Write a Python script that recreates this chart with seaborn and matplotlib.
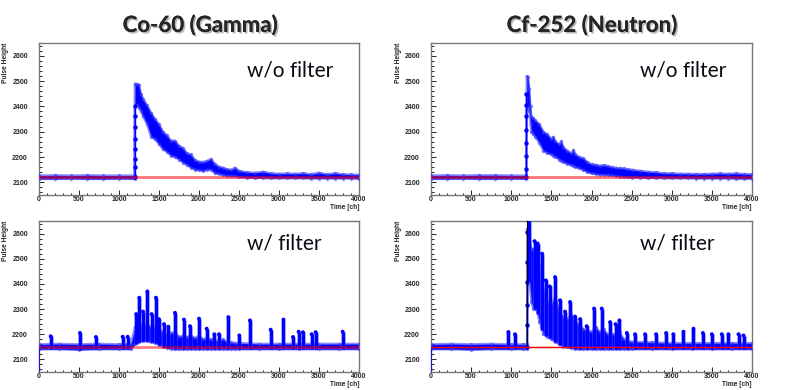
import numpy as np
import pandas as pd
import matplotlib.pyplot as plt
import matplotlib.patheffects as pe
from matplotlib.ticker import MultipleLocator
import seaborn as sns

# ---- values (channel -> pulse height) ----
# Co-60, without filter: upper / lower edge of the noisy waveform band
co_raw_ch = [0, 200, 400, 600, 800, 1000, 1194, 1198, 1225, 1250, 1275, 1300,
             1350, 1400, 1450, 1500, 1550, 1600, 1650, 1700, 1750, 1800, 1850, 1900,
             1950, 2000, 2050, 2100, 2150, 2200, 2250, 2300, 2350, 2400, 2450, 2500,
             2600, 2700, 2800, 2900, 3000, 3100, 3200, 3300, 3400, 3500, 3600, 3700,
             3800, 3900, 4000]
co_raw_hi = [2127, 2128, 2127, 2128, 2127, 2127, 2127, 2490, 2488, 2486, 2450, 2430,
             2405, 2375, 2350, 2330, 2300, 2285, 2265, 2265, 2245, 2235, 2215, 2210,
             2188, 2182, 2180, 2185, 2193, 2172, 2162, 2158, 2152, 2150, 2158, 2146,
             2140, 2138, 2142, 2136, 2134, 2135, 2134, 2136, 2132, 2138, 2132, 2136,
             2132, 2131, 2130]
co_raw_lo = [2113, 2113, 2114, 2113, 2113, 2114, 2113, 2400, 2405, 2395, 2380, 2360,
             2330, 2280, 2270, 2250, 2230, 2220, 2205, 2200, 2190, 2178, 2168, 2158,
             2150, 2148, 2145, 2150, 2150, 2135, 2133, 2128, 2126, 2124, 2124, 2120,
             2118, 2117, 2117, 2116, 2116, 2116, 2116, 2116, 2115, 2115, 2115, 2115,
             2115, 2115, 2114]
co_raw_rise = [2121, 2160, 2193, 2233, 2273, 2320, 2360, 2400]

# Cf-252, without filter
cf_raw_ch = [0, 200, 400, 600, 800, 1000, 1188, 1192, 1210, 1225, 1240, 1250, 1275,
             1300, 1350, 1400, 1450, 1500, 1525, 1550, 1600, 1625, 1650, 1700, 1750,
             1775, 1800, 1850, 1900, 1950, 2000, 2050, 2100, 2150, 2200, 2250, 2300,
             2350, 2400, 2450, 2500, 2600, 2700, 2800, 2900, 3000, 3100, 3200, 3300,
             3400, 3500, 3600, 3700, 3800, 3900, 4000]
cf_raw_hi = [2127, 2128, 2127, 2128, 2128, 2127, 2127, 2520, 2515, 2470, 2400, 2360, 2355,
             2345, 2330, 2300, 2290, 2272, 2280, 2262, 2250, 2262, 2238, 2225, 2215,
             2228, 2210, 2200, 2195, 2180, 2172, 2170, 2166, 2168, 2165, 2160, 2158,
             2156, 2155, 2152, 2150, 2146, 2142, 2140, 2136, 2136, 2134, 2134, 2133,
             2133, 2134, 2135, 2134, 2135, 2133, 2132]
cf_raw_lo = [2113, 2113, 2114, 2113, 2113, 2114, 2113, 2390, 2400, 2380, 2330, 2300, 2290,
             2280, 2255, 2225, 2215, 2210, 2205, 2200, 2190, 2185, 2180, 2172, 2168,
             2165, 2160, 2155, 2148, 2140, 2135, 2133, 2130, 2130, 2128, 2127, 2125,
             2123, 2121, 2120, 2119, 2118, 2117, 2117, 2116, 2116, 2116, 2116, 2115,
             2115, 2115, 2115, 2115, 2114, 2114, 2114]
cf_raw_rise = [2121, 2153, 2204, 2254, 2307, 2360, 2407, 2447]

# Co-60, with filter: baseline band + individual pile-up spikes
co_filt_ch = [0, 250, 500, 750, 1000, 1150, 1200, 1250, 1300, 1350, 1400, 1450, 1500,
              1550, 1600, 1650, 1700, 1750, 1800, 1850, 1900, 1950, 2000, 2050, 2100,
              2150, 2200, 2250, 2300, 2350, 2400, 2450, 2500, 2750, 3000, 3250, 3500,
              3750, 4000]
co_filt_hi = [2160, 2162, 2160, 2162, 2160, 2162, 2230, 2240, 2235, 2240, 2230, 2230, 2220,
              2210, 2200, 2205, 2210, 2190, 2195, 2190, 2195, 2185, 2195, 2180, 2185,
              2180, 2175, 2175, 2180, 2170, 2168, 2165, 2165, 2162, 2162, 2162, 2162,
              2162, 2162]
co_filt_lo = [2140, 2140, 2138, 2140, 2140, 2140, 2160, 2168, 2172, 2172, 2168, 2165, 2158,
              2150, 2145, 2142, 2140, 2140, 2140, 2140, 2140, 2140, 2140, 2140, 2140,
              2140, 2140, 2140, 2140, 2140, 2140, 2140, 2140, 2140, 2140, 2140, 2140,
              2140, 2140]
co_spk_ch = [146, 512, 712, 1046, 1108, 1215, 1254, 1300, 1354, 1408, 1462, 1500, 1563,
             1617, 1700, 1812, 1888, 2000, 2096, 2192, 2250, 2367, 2504, 2637, 2896,
             3056, 3175, 3246, 3300, 3408, 3458, 3796]
co_spk_top = [2192, 2205, 2189, 2190, 2190, 2280, 2345, 2290, 2370, 2280, 2345, 2260, 2240,
              2230, 2285, 2258, 2232, 2262, 2222, 2200, 2200, 2268, 2195, 2255, 2218,
              2258, 2189, 2210, 2208, 2200, 2208, 2210]

# Cf-252, with filter
cf_filt_ch = [0, 250, 500, 750, 1000, 1150, 1196, 1202, 1225, 1250, 1275, 1300, 1325,
              1350, 1375, 1400, 1450, 1500, 1550, 1600, 1650, 1700, 1750, 1800, 1850,
              1900, 1950, 2000, 2050, 2100, 2150, 2200, 2250, 2300, 2350, 2400, 2450,
              2500, 2750, 3000, 3250, 3500, 3750, 4000]
cf_filt_hi = [2160, 2162, 2160, 2162, 2160, 2160, 2160, 2620, 2600, 2540, 2540, 2520, 2430,
              2400, 2480, 2380, 2330, 2320, 2350, 2290, 2270, 2260, 2280, 2250, 2240,
              2220, 2215, 2210, 2230, 2210, 2220, 2200, 2200, 2200, 2210, 2180, 2175,
              2170, 2168, 2165, 2165, 2165, 2165, 2165]
cf_filt_lo = [2140, 2140, 2138, 2140, 2140, 2140, 2140, 2400, 2420, 2330, 2300, 2300, 2290,
              2250, 2230, 2200, 2190, 2180, 2170, 2160, 2150, 2150, 2145, 2142, 2140,
              2140, 2140, 2140, 2140, 2140, 2140, 2140, 2140, 2140, 2140, 2140, 2140,
              2140, 2140, 2140, 2140, 2140, 2140, 2140]
cf_spk_ch = [964, 1047, 1215, 1290, 1330, 1385, 1430, 1480, 1546, 1608, 1670, 1733, 1795,
             1858, 1940, 2032, 2128, 2232, 2300, 2348, 2440, 2543, 2668, 2805, 2930,
             3020, 3146, 3271, 3388, 3500, 3624, 3707, 3832, 3895]
cf_spk_top = [2209, 2200, 2650, 2570, 2560, 2520, 2414, 2390, 2427, 2335, 2290, 2328, 2270,
              2260, 2232, 2302, 2302, 2248, 2240, 2255, 2205, 2200, 2200, 2200, 2205,
              2200, 2210, 2222, 2205, 2200, 2200, 2200, 2200, 2195]
cf_filt_rise = [2150, 2235, 2318, 2408, 2487, 2606]

baseline_raw = 2121
baseline_filt = 2150
first_sample_filt = 2050
rise_ch = 1195
gate_end = 1730

sns.set_theme(style="white")
plt.rcParams["font.family"] = ["Liberation Sans", "DejaVu Sans"]

BLUE = "#0000ff"
fig = plt.figure(figsize=(7.91, 3.90), dpi=100)
fig.patch.set_facecolor("white")

W, H = 791, 390


def make_axes(x0, x1, y0, y1):
    ax = fig.add_axes([x0 / W, 1 - y1 / H, (x1 - x0) / W, (y1 - y0) / H])
    ax.set_xlim(0, 4000)
    ax.set_ylim(2050, 2650)
    ax.xaxis.set_major_locator(MultipleLocator(500))
    ax.xaxis.set_minor_locator(MultipleLocator(100))
    ax.yaxis.set_major_locator(MultipleLocator(100))
    ax.yaxis.set_minor_locator(MultipleLocator(20))
    ax.tick_params(which="both", direction="in", bottom=True, left=True,
                   top=False, right=False, width=0.6, color="black")
    ax.tick_params(which="major", length=3.6, labelsize=5, pad=0.8)
    ax.tick_params(axis="y", which="major", pad=8)
    ax.tick_params(which="minor", length=1.8)
    for lab in ax.get_xticklabels() + ax.get_yticklabels():
        lab.set_fontweight("bold")
    for sp in ax.spines.values():
        sp.set_color("#777777")
        sp.set_linewidth(1.0)
    ax.text(1.0, -12.5 / (y1 - y0), "Time [ch]", transform=ax.transAxes, ha="right",
            va="center", fontsize=4.8, fontweight="bold")
    ax.text(-33 / (x1 - x0), 1.0, "Pulse Height", transform=ax.transAxes, rotation=90,
            ha="center", va="top", fontsize=4.8, fontweight="bold")
    return ax


def draw_band(ax, ch, hi, lo):
    ax.fill_between(ch, lo, hi, color=BLUE, lw=0, zorder=2)
    edges = pd.DataFrame({"ch": ch + ch, "v": hi + lo,
                          "edge": ["hi"] * len(ch) + ["lo"] * len(ch)})
    sns.lineplot(data=edges, x="ch", y="v", units="edge", estimator=None, sort=False,
                 color="#3a3aff", lw=1.6, alpha=0.6, marker="o", markersize=2.4,
                 markeredgewidth=0, ax=ax, zorder=3)


def draw_spikes(ax, ch, top, band_ch, band_lo):
    # each spike rises from the local lower edge of the band
    base = np.interp(ch, band_ch, band_lo)
    ax.vlines(ch, base, top, color="#4a4aff", lw=3.6, alpha=0.45, zorder=3)
    ax.vlines(ch, base, top, color=BLUE, lw=2.2, zorder=3)
    sns.scatterplot(x=ch, y=top, s=8, color=BLUE, edgecolor="none", ax=ax, zorder=4)


def draw_rise(ax, ch, values):
    ax.plot([ch] * len(values), values, color=BLUE, lw=1.0, marker="o", ms=2.2, zorder=4)


ax_tl = make_axes(39, 359, 43, 195)
ax_tr = make_axes(431, 752, 43, 195)
ax_bl = make_axes(39, 359, 221, 372)
ax_br = make_axes(431, 752, 221, 372)

# Co-60 raw
draw_band(ax_tl, co_raw_ch, co_raw_hi, co_raw_lo)
draw_rise(ax_tl, rise_ch, co_raw_rise)
sns.lineplot(x=[0, 4000], y=[baseline_raw] * 2, color="red", lw=2.0, alpha=0.55,
             ax=ax_tl, zorder=5)

# Cf-252 raw
draw_band(ax_tr, cf_raw_ch, cf_raw_hi, cf_raw_lo)
draw_rise(ax_tr, rise_ch - 5, cf_raw_rise)
sns.lineplot(x=[0, 4000], y=[baseline_raw] * 2, color="red", lw=2.0, alpha=0.55,
             ax=ax_tr, zorder=5)

# Co-60 filtered
draw_band(ax_bl, co_filt_ch, co_filt_hi, co_filt_lo)
draw_spikes(ax_bl, co_spk_ch, co_spk_top, co_filt_ch, co_filt_lo)
ax_bl.plot([0, 0], [first_sample_filt, baseline_filt], color=BLUE, lw=1.2, zorder=4)
sns.lineplot(x=[0, 4000], y=[baseline_filt] * 2, color="red", lw=2.0, alpha=0.5,
             ax=ax_bl, zorder=5)

# Cf-252 filtered
draw_band(ax_br, cf_filt_ch, cf_filt_hi, cf_filt_lo)
draw_spikes(ax_br, cf_spk_ch, cf_spk_top, cf_filt_ch, cf_filt_lo)
draw_rise(ax_br, rise_ch + 5, cf_filt_rise)
ax_br.plot([0, 0], [first_sample_filt, baseline_filt], color=BLUE, lw=1.2, zorder=4)
ax_br.plot([rise_ch + 5, rise_ch + 5, gate_end], [2650, baseline_filt, baseline_filt],
           color="black", lw=0.8, zorder=5)
sns.lineplot(x=[0, 4000], y=[baseline_filt] * 2, color="red", lw=1.0, ax=ax_br, zorder=6)

for ax in (ax_tl, ax_tr, ax_bl, ax_br):
    ax.set_xlabel("")
    ax.set_ylabel("")
    legend = ax.get_legend()
    if legend is not None:
        legend.remove()

# in-panel annotations
for ax, label, ytxt in ((ax_tl, "w/o filter", 0.822), (ax_tr, "w/o filter", 0.822),
                        (ax_bl, "w/ filter", 0.854), (ax_br, "w/ filter", 0.854)):
    ax.text(0.65, ytxt, label, transform=ax.transAxes, ha="left", va="center",
            fontsize=15, family=["Lato", "DejaVu Sans"], color="#0a0a14", zorder=7)

shadow = [pe.withSimplePatchShadow(offset=(1.2, -1.2), shadow_rgbFace="#888888", alpha=0.6),
          pe.Normal()]
fig.text(200 / W, 1 - 25 / H, "Co-60 (Gamma)", ha="center", va="center", fontsize=16,
         fontweight="bold", family=["Lato", "DejaVu Sans"], path_effects=shadow)
fig.text(592 / W, 1 - 25 / H, "Cf-252 (Neutron)", ha="center", va="center", fontsize=16,
         fontweight="bold", family=["Lato", "DejaVu Sans"], path_effects=shadow)

fig.savefig("out.png", dpi=100, facecolor="white")
